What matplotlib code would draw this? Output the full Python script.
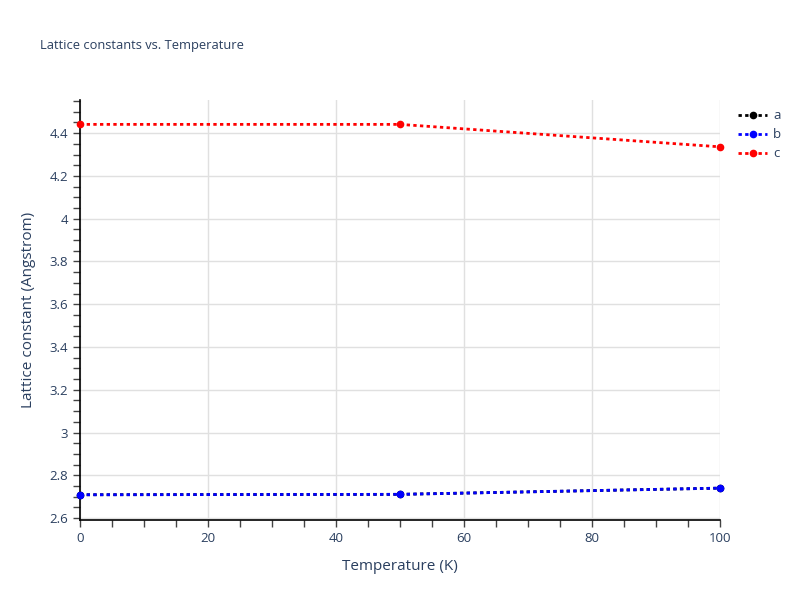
import matplotlib
matplotlib.use("Agg")
import matplotlib.pyplot as plt
from matplotlib.ticker import MultipleLocator, FuncFormatter

plt.rcParams['font.family'] = ['Open Sans', 'DejaVu Sans']

temperature = [0, 50, 100]
a_vals = [2.709, 2.711, 2.740]
b_vals = [2.709, 2.711, 2.740]
c_vals = [4.441, 4.441, 4.336]
series_names = ['a', 'b', 'c']
series_colors = ['black', 'blue', 'red']

TXT = '#2a3f5f'
fig = plt.figure(figsize=(8, 6), dpi=100)
ax = fig.add_axes([80/800, 80/600, 640/800, 420/600])

for name, vals, col in zip(series_names, [a_vals, b_vals, c_vals], series_colors):
    ax.plot(temperature, vals, linestyle=(0, (1.2, 1.2)), linewidth=2, color=col,
            marker='o', markersize=4.5, label=name, clip_on=False, zorder=3)

ax.set_xlim(0, 100)
ax.set_ylim(2.591, 4.555)
ax.xaxis.set_major_locator(MultipleLocator(20))
ax.xaxis.set_minor_locator(MultipleLocator(5))
ax.yaxis.set_major_locator(MultipleLocator(0.2))
ax.yaxis.set_minor_locator(MultipleLocator(0.05))

ax.grid(True, which='major', color='#e0e0e0', linewidth=1)
ax.set_axisbelow(True)
for s in ['top', 'right']:
    ax.spines[s].set_visible(False)
for s in ['left', 'bottom']:
    ax.spines[s].set_color('black')
    ax.spines[s].set_linewidth(1.2)

ax.tick_params(which='both', direction='out', color='#444444', labelcolor=TXT, labelsize=9.5)
ax.tick_params(which='major', length=5, width=1)
ax.tick_params(which='minor', length=5, width=1)

def fmt(v, p):
    s = f"{v:.1f}"
    if s.endswith('.0'):
        s = s[:-2]
    return s
ax.yaxis.set_major_formatter(FuncFormatter(fmt))

ax.set_xlabel('Temperature (K)', color=TXT, fontsize=11, labelpad=10)
ax.set_ylabel('Lattice constant (Angstrom)', color=TXT, fontsize=11, labelpad=10)

fig.text(40/800, 1 - 45/600, 'Lattice constants vs. Temperature', color=TXT,
         fontsize=9.3, va='center', ha='left')

leg = ax.legend(loc='upper left', bbox_to_anchor=(733/800, 1 - 104/600),
                bbox_transform=fig.transFigure, frameon=False, fontsize=9.5,
                handlelength=2.2, labelspacing=0.45, handletextpad=0.45,
                borderaxespad=0)
for t in leg.get_texts():
    t.set_color(TXT)

fig.savefig('out.png', dpi=100)
